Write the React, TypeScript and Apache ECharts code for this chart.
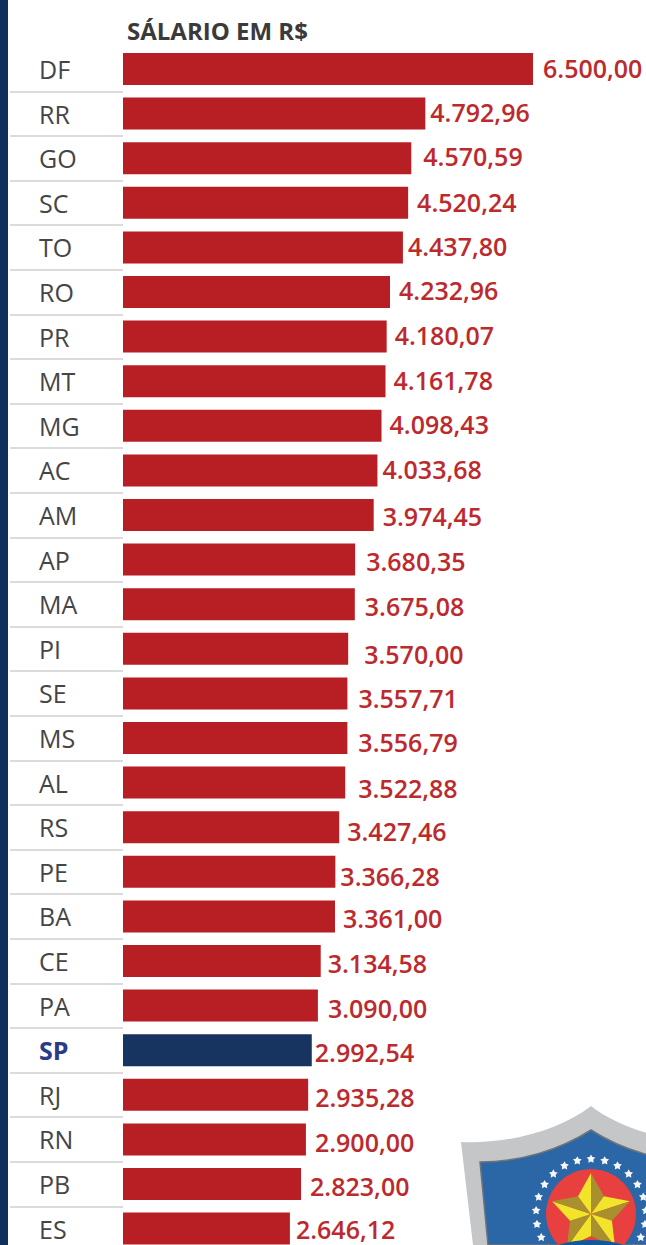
import React, { useEffect, useRef } from "react";
import * as echarts from "echarts";

const TITLE = "SÁLARIO EM R$";
const states = ["DF","RR","GO","SC","TO","RO","PR","MT","MG","AC","AM","AP","MA","PI","SE","MS","AL","RS","PE","BA","CE","PA","SP","RJ","RN","PB","ES"];
const salaries = [6500.00,4792.96,4570.59,4520.24,4437.80,4232.96,4180.07,4161.78,4098.43,4033.68,3974.45,3680.35,3675.08,3570.00,3557.71,3556.79,3522.88,3427.46,3366.28,3361.00,3134.58,3090.00,2992.54,2935.28,2900.00,2823.00,2646.12];
const HIGHLIGHT = "SP";

// hand-set nudges of the printed labels, as in the original artwork
const labelGap = [10,5,12,9,5,9,8,8,8,5,9,11,10,16,11,11,13,8,5,8,7,10,3,7,9,9,6];
const labelRise = [-1,-2,-2,-1,-1,-2,-2,-1,-2,-1,1,1,2,5,5,4,5,4,4,2,2,2,2,2,3,2,0];

const RED = "#b81f25";
const NAVY = "#17335f";
const fmt = (v: number) => v.toFixed(2).replace(".", ",").replace(/\B(?=(\d{3})(?!\d))/g, ".");

const SANS = "'Open Sans', sans-serif";

function starPoints(cx: number, cy: number, R: number, r: number) {
  const pts: number[][] = [];
  for (let i = 0; i < 10; i++) {
    const a = -Math.PI / 2 + (i * Math.PI) / 5;
    const q = i % 2 === 0 ? R : r;
    pts.push([cx + q * Math.cos(a), cy + q * Math.sin(a)]);
  }
  return pts;
}

function shield(): any[] {
  const cx = 591, cy = 1214;
  const out: any[] = [];
  echarts.graphic.registerShape("shieldOuter", echarts.graphic.extendPath(
    "M591 1106 C560 1130 510 1144 461 1142 L473 1245 L709 1245 L721 1142 C672 1144 622 1130 591 1106 Z", {}) as any);
  echarts.graphic.registerShape("shieldInner", echarts.graphic.extendPath(
    "M591 1130 C560 1150 520 1162 480 1162 L488 1245 L694 1245 L702 1162 C662 1162 622 1150 591 1130 Z", {}) as any);
  out.push({ type: "shieldOuter", z: 5, style: { fill: "#c4c6c8" } });
  out.push({ type: "shieldInner", z: 6, style: { fill: "#2b66a6", stroke: "#6f7478", lineWidth: 1.5 } });
  out.push({ type: "circle", z: 7, shape: { cx, cy, r: 45 }, style: { fill: "#e8403f" } });
  const s = starPoints(cx, cy, 41, 22);
  const n = s.length;
  for (let i = 0; i < n; i++) {
    out.push({
      type: "polygon", z: 8,
      shape: { points: [[cx, cy], s[i], s[(i + 1) % n]] },
      style: { fill: i % 2 === 0 ? "#a8902e" : "#f2e32b" },
    });
  }
  for (let k = 0; k < 25; k++) {
    const a = (k * 2 * Math.PI) / 25 - Math.PI / 2;
    out.push({
      type: "polygon", z: 7,
      shape: { points: starPoints(cx + 55 * Math.cos(a), cy + 55 * Math.sin(a), 4.6, 2.4) },
      style: { fill: "#f4f6f8" },
    });
  }
  out.push({ type: "ellipse", z: 9, shape: { cx, cy: 1290, rx: 75, ry: 50 }, style: { fill: "#14589c" } });
  return out;
}

export default function App() {
  const ref = useRef<HTMLDivElement>(null);
  useEffect(() => {
    const chart = echarts.init(ref.current!, null, { renderer: "svg" });
    chart.setOption({
      animation: false,
      backgroundColor: "#ffffff",
      grid: { left: 123, top: 46.7, width: 410, height: 1204.2 },
      title: {
        text: TITLE, left: 122, top: 13,
        textStyle: { fontFamily: SANS, fontSize: 24, fontWeight: 700, color: "#3a3a3a" },
      },
      xAxis: { type: "value", min: 0, max: 6500, show: false },
      yAxis: {
        type: "category", inverse: true, data: states,
        axisLine: { show: false },
        axisTick: {
          show: true, length: 113,
          interval: (i: number) => i !== 0,
          lineStyle: { color: "#cfcfcf", width: 1.5 },
        },
        axisLabel: {
          interval: 0, align: "left", margin: 84,
          fontFamily: SANS, fontSize: 25, color: "#454545",
          formatter: (v: string) => (v === HIGHLIGHT ? `{hi|${v}}` : v),
          rich: { hi: { fontFamily: SANS, fontSize: 25, fontWeight: 700, color: "#2a3b87" } },
        },
      },
      series: [{
        type: "bar", barWidth: 32, silent: true,
        data: salaries.map((v, i) => ({
          value: v,
          itemStyle: { color: states[i] === HIGHLIGHT ? NAVY : RED },
          label: { offset: [labelGap[i], labelRise[i]] },
        })),
        label: {
          show: true, position: "right", distance: 0,
          fontFamily: SANS, fontSize: 25, fontWeight: 600, color: "#bd2a2e",
          formatter: (p: any) => fmt(p.value),
        },
      }],
      graphic: [
        { type: "rect", z: 4, shape: { x: 0, y: 0, width: 8, height: 1300 }, style: { fill: "#0f2f5c" } },
        ...shield(),
      ],
    });
    return () => chart.dispose();
  }, []);
  return (
    <div style={{ position: "fixed", left: 0, top: 0, width: 646, height: 1245, overflow: "hidden" }}>
      <div ref={ref} style={{ width: 646, height: 1300 }} />
    </div>
  );
}
